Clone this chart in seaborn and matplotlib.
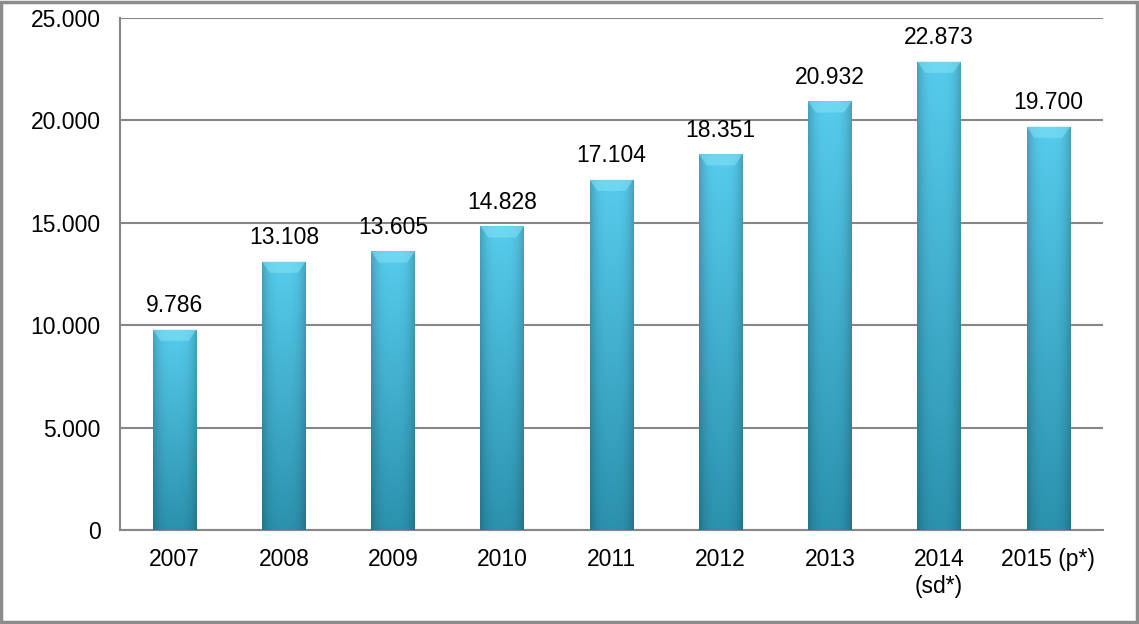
import numpy as np
import pandas as pd
import seaborn as sns
import matplotlib.pyplot as plt
from matplotlib.patches import Rectangle
from matplotlib.ticker import FuncFormatter, FixedLocator

years = ['2007', '2008', '2009', '2010', '2011', '2012', '2013', '2014\n(sd*)', '2015 (p*)']
values = [9786, 13108, 13605, 14828, 17104, 18351, 20932, 22873, 19700]

sns.set_style('white')
plt.rcParams['font.family'] = ['Liberation Sans', 'DejaVu Sans']
plt.rcParams['text.color'] = 'black'
plt.rcParams['xtick.color'] = 'black'
plt.rcParams['ytick.color'] = 'black'

df = pd.DataFrame({'year': years, 'value': values})

fig = plt.figure(figsize=(11.39, 6.24), dpi=100)
ax = fig.add_axes([120 / 1139, 94 / 624, 983 / 1139, 512 / 624])

sns.barplot(data=df, x='year', y='value', color='#35b4d6', width=0.4, ax=ax,
            saturation=1, edgecolor='none')

def dots(v, pos):
    return f'{int(v):,}'.replace(',', '.')

# gradient fill for the bars
h, w = 200, 60
yy = np.linspace(0, 1, h)[:, None]
xx = np.linspace(-1, 1, w)[None, :]
top = np.array([0.34, 0.80, 0.93])
bot = np.array([0.17, 0.57, 0.68])
col = top * (1 - yy[..., None]) + bot * yy[..., None]
shade = 1 - 0.2 * np.abs(xx) ** 3
img = np.clip(col * shade[..., None], 0, 1)

ax.set_ylim(0, 25000)
ax.set_xlim(-0.5, len(years) - 0.5)
for p in ax.patches:
    x0, y0 = p.get_x(), p.get_y()
    bw, bh = p.get_width(), p.get_height()
    im = ax.imshow(img, extent=[x0, x0 + bw, y0, y0 + bh], aspect='auto', zorder=3,
                   interpolation='bilinear')
    im.set_clip_path(p)
    # light bevel at the top of each bar
    ax.fill([x0, x0 + bw, x0 + bw * 0.82, x0 + bw * 0.18],
            [y0 + bh, y0 + bh, y0 + bh - 550, y0 + bh - 550],
            color='#7fe0f5', alpha=0.6, zorder=4, lw=0)
ax.set_xlim(-0.5, len(years) - 0.5)
ax.set_ylim(0, 25000)

for c in ax.containers:
    ax.bar_label(c, labels=[dots(v, None) for v in values], padding=9, fontsize=16.5,
                 color='black')

ax.yaxis.set_major_formatter(FuncFormatter(dots))
ax.set_yticks(range(0, 25001, 5000))
ax.grid(axis='y', color='#868686', linewidth=1.5)
ax.set_axisbelow(True)

ax.xaxis.set_minor_locator(FixedLocator(np.arange(-0.5, len(years), 1.0)))
ax.tick_params(axis='x', which='major', length=0, pad=13, labelsize=16.5)
ax.tick_params(axis='x', which='minor', length=8, width=1.5, color='#868686', direction='out')
ax.tick_params(axis='y', length=6, width=1.5, color='#868686', direction='out', pad=8,
               labelsize=16.5)
ax.set_xlabel('')
ax.set_ylabel('')

for s in ['top', 'right']:
    ax.spines[s].set_visible(False)
for s in ['left', 'bottom']:
    ax.spines[s].set_color('#868686')
    ax.spines[s].set_linewidth(1.5)

fig.patches.append(Rectangle((0.001, 0.003), 0.997, 0.994, transform=fig.transFigure,
                             fill=False, edgecolor='#8c8c8c', linewidth=2.5))

fig.savefig('out.png', dpi=100)
